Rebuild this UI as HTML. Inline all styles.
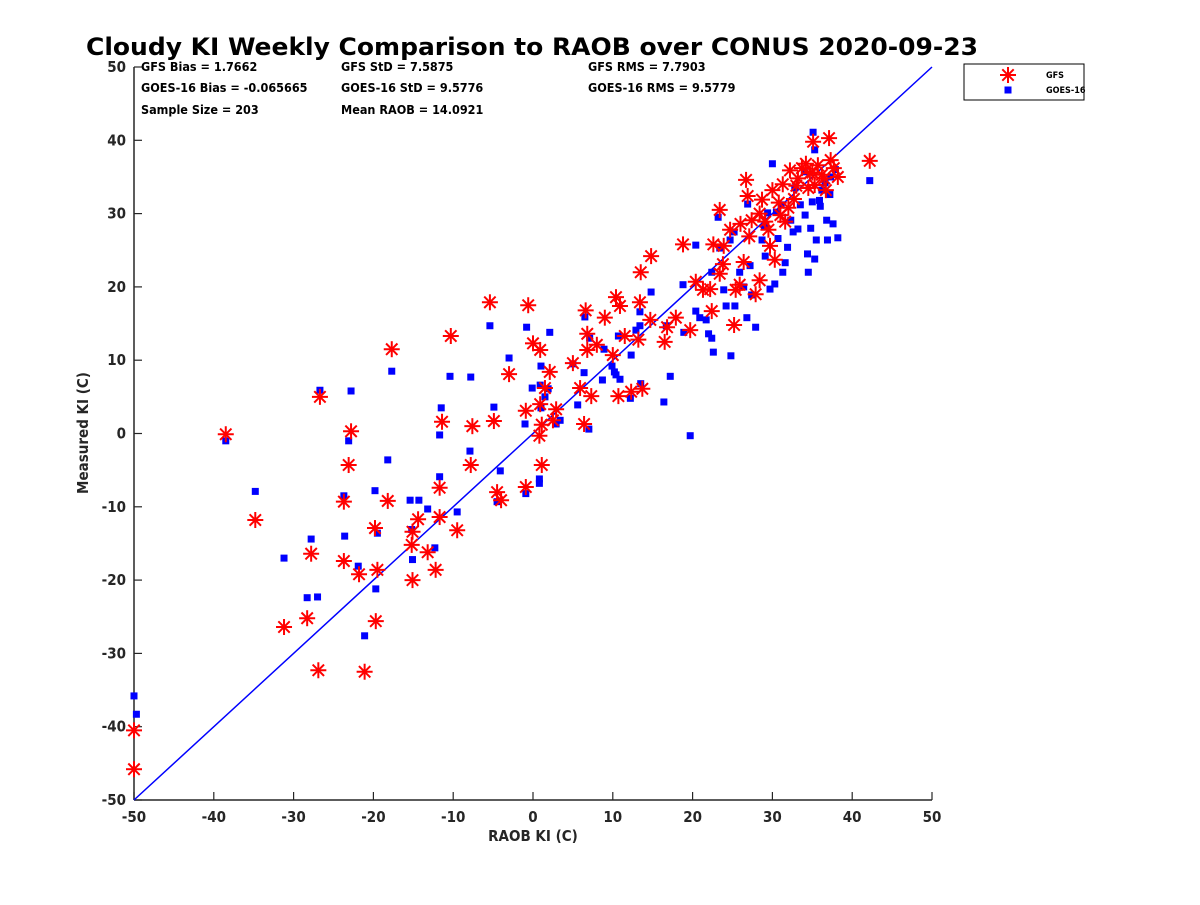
<!DOCTYPE html>
<html><head><meta charset="utf-8"><style>
body{margin:0;background:#fff;}
svg text{font-family:"DejaVu Sans Condensed","DejaVu Sans","Liberation Sans",sans-serif;font-weight:bold;}
</style></head><body>
<svg id="chart" width="1200" height="900" xmlns="http://www.w3.org/2000/svg">
<rect width="1200" height="900" fill="#fff"/>
<text x="86" y="55" font-size="24" textLength="892" lengthAdjust="spacingAndGlyphs" fill="#000">Cloudy KI Weekly Comparison to RAOB over CONUS 2020-09-23</text>
<g id="axes"></g>
<g id="stats" font-size="12.5" fill="#000">
<text x="141" y="71">GFS Bias = 1.7662</text>
<text x="341" y="71">GFS StD = 7.5875</text>
<text x="588" y="71">GFS RMS = 7.7903</text>
<text x="141" y="92">GOES-16 Bias = -0.065665</text>
<text x="341" y="92">GOES-16 StD = 9.5776</text>
<text x="588" y="92">GOES-16 RMS = 9.5779</text>
<text x="141" y="114">Sample Size = 203</text>
<text x="341" y="114">Mean RAOB = 14.0921</text>
</g>
<g id="marks"></g>
<g>
<rect x="964" y="64" width="120" height="36" fill="#fff" stroke="#000" stroke-width="1"/>
<g id="legmark"></g>
<text x="1046" y="78" font-size="9">GFS</text>
<text x="1046" y="93" font-size="9">GOES-16</text>
</g>
</svg>
<script>
const xTicks=[-50,-40,-30,-20,-10,0,10,20,30,40,50];
const yTicks=[-50,-40,-30,-20,-10,0,10,20,30,40,50];
const gfsX=[-38.5,-50,-50,-34.8,-31.2,-28.3,-27.8,-26.9,-26.7,-23.7,-23.1,-22.8,-23.7,-21.8,-21.1,-19.8,-19.7,-19.5,-18.2,-17.7,-15.1,-15.2,-15.1,-14.4,-13.2,-12.2,-11.7,-11.7,-11.4,-10.3,-9.5,-7.8,-7.6,-5.4,-4.9,-4.5,-4,-3,-0.9,-0.6,-0.9,0,0.9,0.8,1.1,1.1,0.9,2.1,2.5,2.9,1.5,5,5.9,6.4,6.6,6.8,6.8,7.3,8,9,10.4,10,10.7,10.9,11.5,12.3,13.2,13.4,13.7,13.5,14.8,14.7,16.5,16.8,17.9,18.8,19.7,20.4,21.3,22.2,22.4,22.6,23.4,23.4,23.8,24.7,25.2,25.4,25.9,26.4,26.7,26.9,27.1,27.4,27.9,28.4,28.7,29.1,29.7,30,30.3,31,31.3,31.6,32.2,32.7,33.2,33.7,34.2,34.7,35.1,35.3,35.7,36.2,36.7,37.1,37.3,37.7,38.2,42.2,23.9,26,28.4,30.8,33,35,36.5,29.5,32,34.5];
const gfsY=[-0.1,-40.5,-45.8,-11.8,-26.4,-25.2,-16.4,-32.3,5,-9.3,-4.3,0.3,-17.4,-19.2,-32.5,-12.9,-25.6,-18.6,-9.2,11.5,-20,-15.2,-13.4,-11.7,-16.2,-18.6,-11.4,-7.4,1.6,13.3,-13.2,-4.3,1,17.9,1.7,-8,-9.1,8.1,-7.3,17.5,3.1,12.3,11.4,-0.3,1.2,-4.3,4,8.4,1.8,3.3,6.2,9.6,6.2,1.3,16.8,13.6,11.4,5.1,12.1,15.8,18.6,10.7,5.1,17.4,13.3,5.7,12.8,17.9,6.1,22,24.2,15.5,12.5,14.5,15.8,25.8,14.1,20.7,19.6,19.7,16.7,25.8,30.5,21.8,23.1,27.8,14.8,19.6,20.3,23.4,34.6,32.4,26.9,29.1,19,20.9,31.9,28.9,25.6,33.2,23.7,29.8,34,28.9,35.9,32,34.8,36.2,36.8,35.5,39.8,33.9,36.6,35.3,33.2,40.3,37.3,36.2,35,37.2,25.6,28.6,30,31.5,33.8,35.6,34.8,27.8,30.8,33.5];
const goesX=[-50,-49.7,-38.5,-34.8,-31.2,-28.3,-27.8,-27,-26.7,-23.7,-23.6,-23.1,-22.8,-21.9,-21.1,-19.8,-19.5,-19.7,-18.2,-17.7,-15.4,-15.2,-15.1,-14.3,-13.2,-12.3,-11.7,-11.7,-11.5,-10.4,-9.5,-7.9,-7.8,-5.4,-4.9,-4.5,-4.1,-3,-0.9,-0.8,-1,-0.1,0.9,0.8,0.8,1,1,1.5,1.9,2.1,2.9,3.4,5,5.6,6.4,6.5,7,7.1,8.7,8.9,9.9,10.2,10.4,10.7,10.9,12.2,12.3,12.9,13.4,13.5,13.4,14.8,16.4,16.7,17.2,18.8,18.9,19.7,20.4,20.4,20.9,21.7,22,22.4,22.4,22.6,23.2,23.4,23.9,24.2,24.7,24.8,25.2,25.3,25.9,26.4,26.8,26.9,27.2,27.4,27.9,28.7,29.1,29.4,29.7,30,30.3,30.7,31.1,31.3,31.6,31.9,32.3,32.6,33.2,33.5,34,34.1,34.4,34.5,34.8,35,35.1,35.3,35.3,35.5,35.9,36.2,36.6,36.8,36.9,37.2,37.6,37.9,38.2,42.2,29,30.5,32.8,36,37.3];
const goesY=[-35.8,-38.3,-1,-7.9,-17,-22.4,-14.4,-22.3,5.9,-8.5,-14,-1,5.8,-18.1,-27.6,-7.8,-13.6,-21.2,-3.6,8.5,-9.1,-13.1,-17.2,-9.1,-10.3,-15.6,-0.2,-5.9,3.5,7.8,-10.7,-2.4,7.7,14.7,3.6,-9.3,-5.1,10.3,-8.2,14.5,1.3,6.2,6.6,-6.2,-6.8,3.5,9.2,5,6.1,13.8,1.3,1.8,9.5,3.9,8.3,15.9,0.6,13,7.3,11.5,9.2,8.4,8,13.3,7.4,4.8,10.7,14.1,14.7,6.8,16.6,19.3,4.3,14.7,7.8,20.3,13.8,-0.3,25.7,16.7,15.8,15.5,13.6,13,22,11.1,29.5,25.3,19.6,17.4,26.4,10.6,27.5,17.4,22,20,15.8,31.3,22.9,18.9,14.5,26.4,24.2,30.1,19.7,36.8,20.4,26.6,31.2,22,23.3,25.4,29.1,27.5,27.9,31.2,35.7,29.8,24.5,22,28,31.6,41.1,38.7,23.8,26.4,31.8,33.2,34.2,29.1,26.4,32.6,28.6,36,26.7,34.5,28.2,30.2,33.5,31,35];
const X0=134,X1=932,Y0=800,Y1=67;
const sx=v=>X0+(v+50)/100*(X1-X0);
const sy=v=>Y0-(v+50)/100*(Y0-Y1);
const NS="http://www.w3.org/2000/svg";
function mk(tag,attrs,parent){const e=document.createElementNS(NS,tag);for(const k in attrs)e.setAttribute(k,attrs[k]);parent.appendChild(e);return e;}
const axes=document.getElementById('axes');
let xl=mk('line',{x1:X0,y1:Y0,x2:X1,y2:Y0,stroke:'#262626','stroke-width':1.5},axes);


let yl=mk('line',{x1:X0,y1:Y0,x2:X0,y2:Y1,stroke:'#262626','stroke-width':1.5},axes);


xTicks.forEach(t=>{
 mk('line',{x1:sx(t),y1:Y0,x2:sx(t),y2:Y0-8,stroke:'#262626','stroke-width':1.2},axes);
 const tx=mk('text',{x:sx(t),y:Y0+22,'font-size':15,'text-anchor':'middle',fill:'#262626'},axes);
 tx.textContent=t;
 
 
});
yTicks.forEach(t=>{
 mk('line',{x1:X0,y1:sy(t),x2:X0+8,y2:sy(t),stroke:'#262626','stroke-width':1.2},axes);
 const tx=mk('text',{x:X0-8,y:sy(t)+5,'font-size':15,'text-anchor':'end',fill:'#262626'},axes);
 tx.textContent=t;
 
 
});
const xt=mk('text',{x:533,y:841,'font-size':15,'text-anchor':'middle',fill:'#262626'},axes);
xt.textContent='RAOB KI (C)';


const yt=mk('text',{x:0,y:0,'font-size':15,'text-anchor':'middle',fill:'#262626',transform:'translate(88,433) rotate(-90)'},axes);
yt.textContent='Measured KI (C)';


const marks=document.getElementById('marks');
const ref=mk('line',{x1:sx(-50),y1:sy(-50),x2:sx(50),y2:sy(50),stroke:'#0000ff','stroke-width':1.5},marks);


function star(cx,cy,p){const g=mk('g',{stroke:'#ff0000','stroke-width':2},p);const r=8,d=5.7;
 mk('line',{x1:cx-r,y1:cy,x2:cx+r,y2:cy},g);mk('line',{x1:cx,y1:cy-r,x2:cx,y2:cy+r},g);
 mk('line',{x1:cx-d,y1:cy-d,x2:cx+d,y2:cy+d},g);mk('line',{x1:cx-d,y1:cy+d,x2:cx+d,y2:cy-d},g);return g;}
goesX.forEach((v,i)=>{
 const s=mk('rect',{x:sx(v)-3.5,y:sy(goesY[i])-3.5,width:7,height:7,fill:'#0000ff'},marks);
 
 
});
gfsX.forEach((v,i)=>{
 const g=star(sx(v),sy(gfsY[i]),marks);
 
 
});
const lm=document.getElementById('legmark');
const ls=star(1008,75,lm);


const lq=mk('rect',{x:1004.5,y:86.5,width:7,height:7,fill:'#0000ff'},lm);


</script>
</body></html>
